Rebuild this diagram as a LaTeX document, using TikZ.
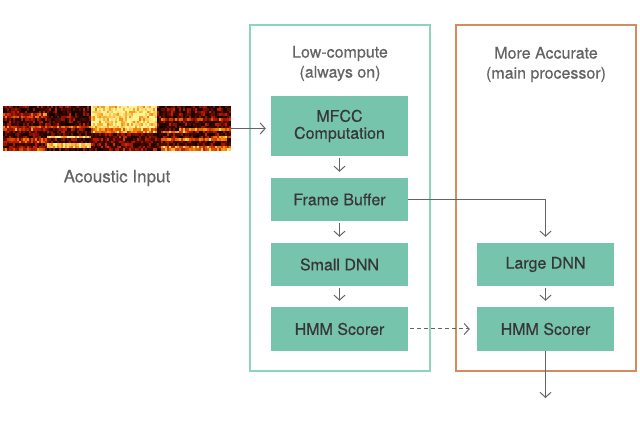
\documentclass[tikz,border=0pt]{standalone}
\usepackage{fontspec}
\setmainfont{TeX Gyre Heros}[FakeBold=0.4]
\usetikzlibrary{arrows.meta}
\definecolor{boxfill}{RGB}{119,196,172}
\definecolor{boxtext}{RGB}{55,55,55}
\definecolor{titletext}{RGB}{100,100,100}
\definecolor{lowborder}{RGB}{140,212,188}
\definecolor{hiborder}{RGB}{212,140,95}
\definecolor{arrowgray}{RGB}{100,100,100}
\definecolor{specA}{RGB}{8,0,0}
\definecolor{specB}{RGB}{190,25,0}
\definecolor{specC}{RGB}{245,135,0}
\definecolor{specD}{RGB}{255,245,150}
\tikzset{
  stage/.style={fill=boxfill, draw=none, minimum width=137pt, inner sep=0pt,
    text=boxtext, font=\fontsize{16}{19}\selectfont, align=center},
  container/.style={draw, line width=1.5pt, minimum width=180pt, minimum height=346pt, inner sep=0pt},
  title/.style={text=titletext, font=\fontsize{16}{20}\selectfont, align=center},
  flow/.style={draw=arrowgray, line width=1pt, -{Straight Barb[length=5pt,width=11pt]}},
}
\begin{document}
\begin{tikzpicture}[x=1pt,y=-1pt]
\useasboundingbox (0,0) rectangle (640,435);
% containers
\node[container, draw=lowborder] (low) at (340,198) {};
\node[container, draw=hiborder] (high) at (546,198) {};
\node[title] (lowtitle) at (340,63.5) {Low-compute\\(always on)};
\node[title] (hightitle) at (546,64.5) {More Accurate\\(main processor)};
% stages
\node[stage, minimum height=60pt] (mfcc) at (339.5,126) {MFCC\\[-2pt]Computation};
\node[stage, minimum height=43pt] (fb) at (339.5,199.5) {Frame Buffer};
\node[stage, minimum height=43pt] (sdnn) at (339.5,264.5) {Small DNN};
\node[stage, minimum height=44pt] (hmml) at (339.5,329) {HMM Scorer};
\node[stage, minimum height=43pt] (ldnn) at (545.5,264.5) {Large DNN};
\node[stage, minimum height=44pt] (hmmr) at (545.5,329) {HMM Scorer};
% spectrogram
\node[minimum width=228pt, minimum height=45pt, inner sep=0pt, fill=specA] (spec) at (117,128.5) {};
\pgfmathsetseed{11}
\foreach \i in {0,...,113}{
  \foreach \j in {0,...,17}{
    \pgfmathsetmacro{\u}{2*\i}
    \pgfmathsetmacro{\w}{2.5*\j}
    \pgfmathsetmacro{\r}{rnd}
    \pgfmathsetmacro{\v}{0.02 + 0.42*\r*\r
      + (\u>=88)*(\u<=152)*(\w<=25)*(0.65 + 0.3*rnd)*(1-0.35*(\w>20))
      + (\u>=88)*(\u<=152)*(\w>25)*(0.1*rnd)
      + (\u>=44)*(\u<88)*((abs(\w-30)<=2) + (abs(\w-39.5)<=2) + 0.5*(abs(\w-21)<=1.2))*(0.55+0.3*rnd)
      + (\u<44)*((abs(\w-9)<=1.5)+(abs(\w-21)<=1.5)+(abs(\w-34)<=1.5)+(abs(\w-42)<=1.3))*(0.15+0.25*rnd)
      + (\u>156)*((abs(\w-25+0.05*(\u-156))<=1.5) + (abs(\w-33+0.03*(\u-156))<=1.5) + (abs(\w-41)<=1.5) + 0.5*(abs(\w-12)<=1.3))*(0.35+0.25*rnd)}
    \pgfmathsetmacro{\v}{min(1,max(0,\v))}
    \pgfmathtruncatemacro{\seg}{(\v>=0.4)+(\v>=0.7)}
    \ifcase\seg
      \pgfmathtruncatemacro{\p}{\v/0.4*100}\edef\col{specB!\p!specA}
    \or
      \pgfmathtruncatemacro{\p}{(\v-0.4)/0.3*100}\edef\col{specC!\p!specB}
    \or
      \pgfmathtruncatemacro{\p}{(\v-0.7)/0.3*100}\edef\col{specD!\p!specC}
    \fi
    \fill[\col] (3+\u,106+\w) rectangle ++(2.1,2.6);
  }
}
\node[text=titletext, font=\fontsize{17}{20}\selectfont] (acin) at (117,178) {Acoustic Input};
% connectors
\draw[flow, shorten >=5pt] (spec.east) -- (spec.east -| mfcc.west);
\draw[flow, shorten <=2pt, shorten >=6pt] (mfcc.south) -- (fb.north);
\draw[flow, shorten <=2pt, shorten >=6pt] (fb.south) -- (sdnn.north);
\draw[flow, shorten <=2pt, shorten >=6pt] (sdnn.south) -- (hmml.north);
\draw[flow, shorten >=6pt] (fb.east) -| (ldnn.north);
\draw[flow, shorten <=2pt, shorten >=6pt] (ldnn.south) -- (hmmr.north);
\draw[flow, dashed, dash pattern=on 4pt off 3pt, shorten <=2pt, shorten >=7pt] (hmml.east) -- (hmmr.west);
\coordinate (out) at (545.5,398);
\draw[flow] (hmmr.south) -- (out);
\end{tikzpicture}
\end{document}
